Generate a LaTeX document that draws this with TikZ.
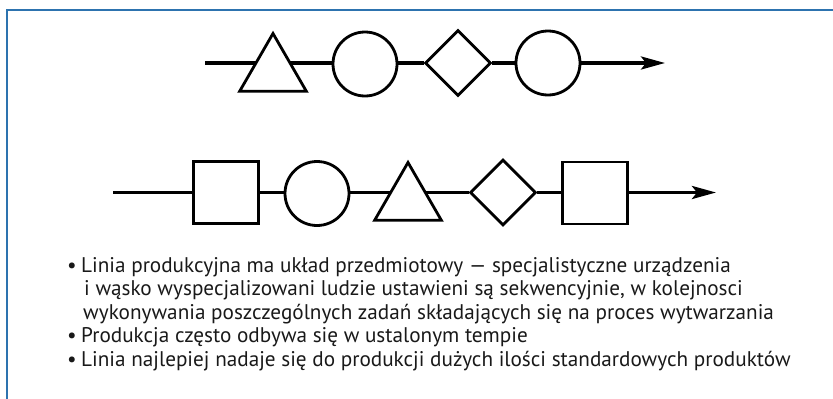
\documentclass[tikz,border=0pt]{standalone}
\usepackage{fontspec}
\setmainfont{PT Sans}
\usetikzlibrary{shapes.geometric,arrows.meta,backgrounds}
\definecolor{frameblue}{RGB}{45,115,175}
\definecolor{txt}{RGB}{25,25,25}
\tikzset{
  shapebox/.style={draw=black, line width=2.8pt, fill=white, inner sep=0pt},
  conn/.style={draw=black, line width=3.6pt},
  arr/.style={-{Stealth[length=24pt,width=13pt,inset=5pt]}},
  tri/.style={shapebox, regular polygon, regular polygon sides=3, minimum size=77pt},
  circ/.style={shapebox, circle, minimum size=64pt},
  dia/.style={shapebox, diamond, minimum size=66pt},
  sq/.style={shapebox, rectangle, minimum width=65pt, minimum height=62pt},
  txtline/.style={anchor=base west, inner sep=0pt, text=txt, font=\fontsize{21.2pt}{24pt}\selectfont},
}
\begin{document}
\begin{tikzpicture}[x=1pt,y=-1pt]
\useasboundingbox (0,0) rectangle (833,399);
\draw[frameblue, line width=2pt] (7,420) -- (7,10) -- (850,10);
% top row
\coordinate (s1) at (205,63);
\coordinate (e1) at (665,63);
\node[tri]  (t1) at (273,72) {};
\node[circ] (c1) at (365,64) {};
\node[dia]  (d1) at (458,63) {};
\node[circ] (c2) at (548,63) {};
% bottom row
\coordinate (s2) at (113,192.5);
\coordinate (e2) at (716,192.5);
\node[sq]   (q1) at (226,192.5) {};
\node[circ] (c3) at (317,193.5) {};
\node[tri]  (t2) at (408,201) {};
\node[dia]  (d2) at (503,192.5) {};
\node[sq]   (q2) at (595,193) {};
\begin{pgfonlayer}{background}
\draw[conn] (s1) -- (t1 |- s1);
\draw[conn] (t1 |- s1) -- (c1.west |- s1);
\draw[conn] (c1.east |- s1) -- (d1.west);
\draw[conn] (d1.east) -- (c2.west);
\draw[conn, arr] (c2.east) -- (e1);
\draw[conn] (s2) -- (q1.west);
\draw[conn] (q1.east) -- (c3.west |- s2);
\draw[conn] (c3.east |- s2) -- (t2 |- s2);
\draw[conn] (t2 |- s2) -- (d2.west);
\draw[conn] (d2.east) -- (q2.west |- s2);
\draw[conn, arr] (q2.east |- s2) -- (e2);
\end{pgfonlayer}
% text
\node[txtline] (b1) at (67,272) {•};
\node[txtline] (l1) at (81,272) {Linia produkcyjna ma układ przedmiotowy — specjalistyczne urządzenia};
\node[txtline] (l2) at (84,295.5) {i wąsko wyspecjalizowani ludzie ustawieni są sekwencyjnie, w kolejnosci};
\node[txtline] (l3) at (83,319) {wykonywania poszczególnych zadań składających się na proces wytwarzania};
\node[txtline] (b4) at (67,342.5) {•};
\node[txtline] (l4) at (81,342.5) {Produkcja często odbywa się w ustalonym tempie};
\node[txtline] (b5) at (67,366) {•};
\node[txtline] (l5) at (81,366) {Linia najlepiej nadaje się do produkcji dużych ilości standardowych produktów};
\end{tikzpicture}
\end{document}
